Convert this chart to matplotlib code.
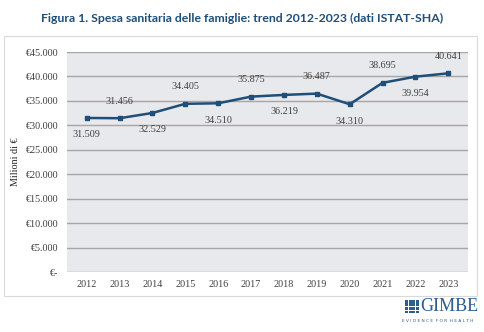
import matplotlib
matplotlib.use("Agg")
from matplotlib import pyplot as plt
from matplotlib.patches import Rectangle
from matplotlib.ticker import FuncFormatter

years = [2012, 2013, 2014, 2015, 2016, 2017, 2018, 2019, 2020, 2021, 2022, 2023]
spesa = [31509, 31456, 32529, 34405, 34510, 35875, 36219, 36487, 34310, 38695, 39954, 40641]
# label position for each point: below for even index, above for odd
label_above = [i % 2 == 1 for i in range(len(years))]

navy = '#1F4E79'
grid_col = '#a6a6a6'
bg_col = '#e8e9ec'


def euro(v, pos=None):
    if v == 0:
        return '€-'
    return '€' + f'{int(v):,}'.replace(',', '.')


fig = plt.figure(figsize=(4.84, 3.32), dpi=100)
fig.patch.set_facecolor('white')

# outer chart frame
fig.patches.append(Rectangle((4 / 484, 1 - 296 / 332), 473 / 484, 260 / 332,
                             transform=fig.transFigure, fill=False,
                             edgecolor='#d9d9d9', lw=0.8))

ax = fig.add_axes([67 / 484, 1 - 272 / 332, 401 / 484, 220 / 332])
ax.set_facecolor(bg_col)

ax.plot(years, spesa, color=navy, lw=1.8, marker='s', ms=3.5, zorder=3)

for x, y, up in zip(years, spesa, label_above):
    off = 9 if up else -9
    ax.annotate(f'{y:,}'.replace(',', '.'), (x, y), xytext=(0, off),
                textcoords='offset points', ha='center',
                va='bottom' if up else 'top', fontsize=7.3,
                family='Liberation Serif', color='#404040')

ax.set_xlim(2011.4, 2023.6)
ax.set_ylim(0, 45000)
ax.set_yticks(range(0, 45001, 5000))
ax.yaxis.set_major_formatter(FuncFormatter(euro))
ax.set_xticks(years)
ax.grid(axis='y', color=grid_col, lw=1)
ax.set_axisbelow(True)
for s in ax.spines.values():
    s.set_visible(False)
ax.tick_params(length=0, labelsize=7.3, labelcolor='#404040', pad=6)
for lab in ax.get_xticklabels() + ax.get_yticklabels():
    lab.set_family('Liberation Serif')

ax.set_ylabel('Milioni di €', fontsize=7.3, family='Liberation Serif',
              color='#262626', labelpad=4)

fig.text(0.5, 1 - 18 / 332,
         'Figura 1. Spesa sanitaria delle famiglie: trend 2012-2023 (dati ISTAT-SHA)',
         ha='center', va='center', fontsize=8.8, fontweight='bold',
         family='Lato', color=navy)

# GIMBE logo
logo_col = '#2a5d91'
gx, gy, cs = 405, 299, 3.6
for r in range(4):
    for c in range(4):
        fig.patches.append(Rectangle(((gx + c * cs) / 484, 1 - (gy + (r + 1) * cs) / 332),
                                     (cs - 0.7) / 484, (cs - 0.7) / 332,
                                     transform=fig.transFigure,
                                     color=logo_col, lw=0))
fig.text(420 / 484, 1 - 306.5 / 332, 'GIMBE', ha='left', va='center',
         fontsize=13, family='Liberation Serif', color=logo_col)
fig.text(438 / 484, 1 - 321 / 332, 'E V I D E N C E  F O R  H E A L T H',
         ha='center', va='center', fontsize=3.1, family='DejaVu Sans',
         color=logo_col)

fig.savefig('out.png', dpi=100)
